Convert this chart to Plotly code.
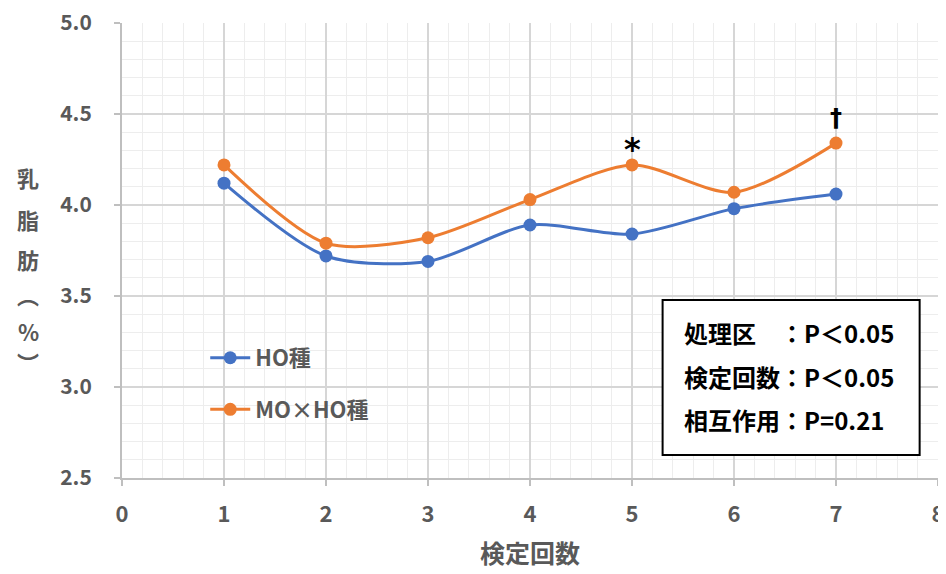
import plotly.graph_objects as go

rounds = [1, 2, 3, 4, 5, 6, 7]
ho = [4.12, 3.72, 3.69, 3.89, 3.84, 3.98, 4.06]
mo_ho = [4.22, 3.79, 3.82, 4.03, 4.22, 4.07, 4.34]
series_names = ["HO種", "MO×HO種"]
colors = ["#4472C4", "#ED7D31"]
marks = [(5, 4.31, "*", 32), (7, 4.48, "†", 24)]
stats_lines = ["処理区　：P＜0.05", "検定回数：P＜0.05", "相互作用：P=0.21"]
stats_y = [3.297, 3.055, 2.819]
y_title_chars = ["乳", "脂", "肪", "︵", "%", "︶"]

FONT = "Noto Sans CJK JP, Noto Sans, sans-serif"
GRAY = "#595959"

# page body has an 8px margin; plot area target (absolute px)
OFF = 8
plot_top, plot_bottom, plot_left, plot_right = 23, 478, 122, 938
W, H = 946, 574

fig = go.Figure()
for i, (name, vals) in enumerate(zip(series_names, [ho, mo_ho])):
    fig.add_trace(go.Scatter(
        x=rounds, y=vals, name=name, mode="lines+markers",
        line=dict(color=colors[i], width=3, shape="spline", smoothing=0.8),
        marker=dict(color=colors[i], size=13),
        legendgroup=f"g{i}",
    ))

for x, y, t, s in marks:
    fig.add_annotation(x=x, y=y, text=t, showarrow=False,
                       font=dict(size=s, color="black", family="DejaVu Sans", weight="bold"))

# stats box
fig.add_shape(type="rect", x0=5.30, x1=7.82, y0=2.626, y1=3.478,
              line=dict(color="black", width=2), fillcolor="white", layer="above")
for line, yv in zip(stats_lines, stats_y):
    fig.add_annotation(x=5.49, y=yv, text=line, showarrow=False,
                       xanchor="left", yanchor="middle",
                       font=dict(size=24, color="black", family=FONT, weight="bold"))

# vertical y title (pixel positions converted to paper coords)
ypix = [177, 219, 259, 294, 331, 362]
for ch, yp in zip(y_title_chars, ypix):
    fig.add_annotation(x=(28 - plot_left) / (plot_right - plot_left),
                       y=(plot_bottom - yp) / (plot_bottom - plot_top),
                       xref="paper", yref="paper", xanchor="center", yanchor="middle",
                       text=ch, showarrow=False,
                       font=dict(size=22, color=GRAY, family=FONT, weight="bold"))

fig.update_layout(
    width=W, height=H,
    margin=dict(l=plot_left - OFF, r=W - (plot_right - OFF), t=plot_top - OFF,
                b=H - (plot_bottom - OFF), autoexpand=False),
    paper_bgcolor="white", plot_bgcolor="white",
    font=dict(family=FONT, color=GRAY),
    showlegend=True,
    legend=dict(x=0.102, y=0.31, xanchor="left", yanchor="top",
                bgcolor="rgba(0,0,0,0)", tracegroupgap=20,
                font=dict(size=22, color=GRAY, family=FONT, weight="bold"),
                itemwidth=40),
    xaxis=dict(range=[0, 8], dtick=1, tick0=0, automargin=False,
               showgrid=True, gridcolor="#D6D6D6", gridwidth=1.5,
               minor=dict(dtick=0.2, showgrid=True, gridcolor="#EDEDED", gridwidth=1),
               showline=True, linecolor="#BFBFBF", linewidth=2,
               ticks="outside", ticklen=6, tickcolor="#BFBFBF", tickwidth=1.5,
               tickfont=dict(size=22, color=GRAY, family=FONT, weight="bold"),
               ticklabelstandoff=10, ticklabeloverflow="allow", zeroline=False,
               title=dict(text="検定回数", font=dict(size=25, color=GRAY, family=FONT, weight="bold"),
                          standoff=18)),
    yaxis=dict(range=[2.5, 5.0], tickvals=[2.5, 3.0, 3.5, 4.0, 4.5, 5.0], tickformat=".1f",
               automargin=False,
               showgrid=True, gridcolor="#D6D6D6", gridwidth=1.5,
               minor=dict(dtick=0.1, tick0=2.5, showgrid=True, gridcolor="#EDEDED", gridwidth=1),
               showline=True, linecolor="#BFBFBF", linewidth=2,
               ticks="outside", ticklen=6, tickcolor="#BFBFBF", tickwidth=1.5,
               tickfont=dict(size=21, color=GRAY, family=FONT, weight="bold"),
               ticklabelstandoff=18, ticklabeloverflow="allow", zeroline=False),
)

fig.write_html("out.html")
